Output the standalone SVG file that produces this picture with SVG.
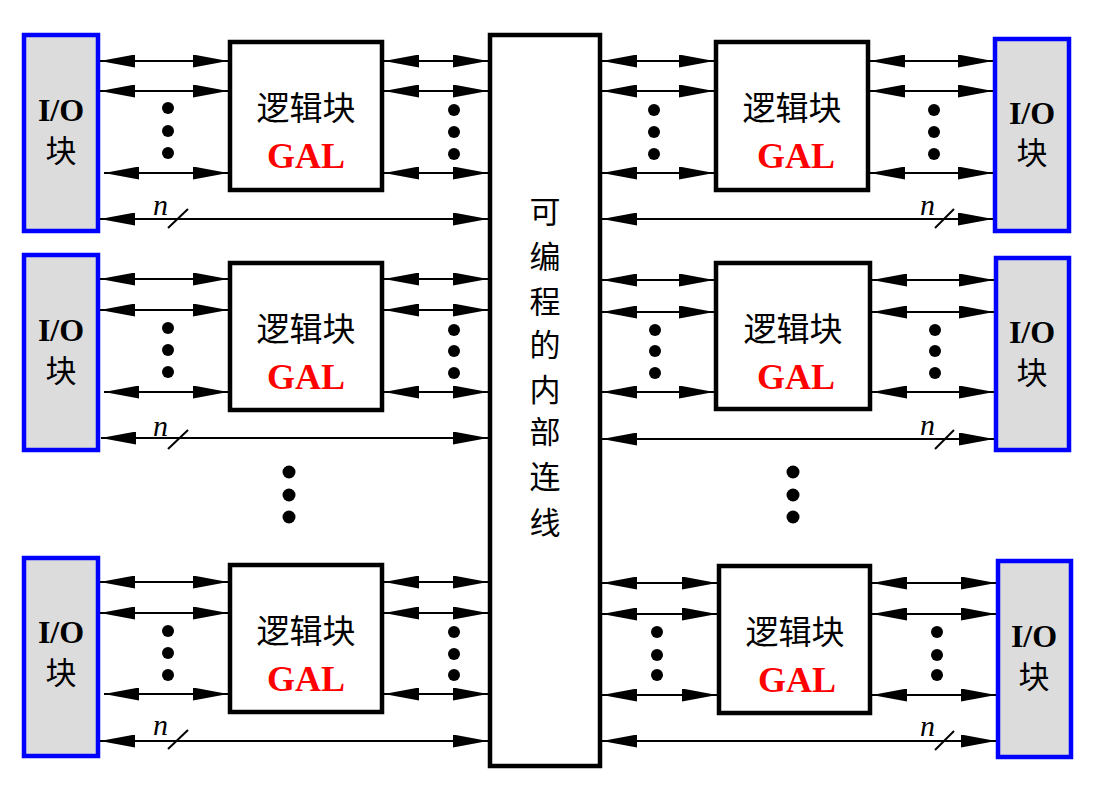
<svg xmlns="http://www.w3.org/2000/svg" width="1111" height="793" viewBox="0 0 1111 793">
<style>
.io{fill:#dcdcdc;stroke:#0000ff;stroke-width:4.5}
.blk{fill:#fff;stroke:#000;stroke-width:4.5}
.ln{stroke:#000;stroke-width:2;fill:none;marker-start:url(#ah);marker-end:url(#ah)}
.sl{stroke:#000;stroke-width:2}
.dot{fill:#000}
.cjk{font-family:"Liberation Serif","Noto Sans CJK SC",serif;font-size:31px;fill:#000;text-anchor:middle}
.iot{font-family:"Liberation Serif","Noto Sans CJK SC",serif;font-size:32px;font-weight:bold;fill:#000;text-anchor:middle}
.gal{font-family:"Liberation Serif",serif;font-size:36px;font-weight:bold;fill:#ff0000;text-anchor:middle}
.n{font-family:"Liberation Serif",serif;font-size:30px;font-style:italic;fill:#000}
</style>
<defs>
<marker id="ah" viewBox="0 0 35 13" refX="35" refY="6.5" markerWidth="35" markerHeight="13" markerUnits="userSpaceOnUse" orient="auto-start-reverse">
<path d="M0,0 L35,6.5 L0,13 z" fill="#000"/>
</marker>
</defs>

<g id="center">
<rect class="blk" x="490" y="35" width="110" height="731"/>
<text class="cjk" x="545" y="223">可</text>
<text class="cjk" x="545" y="268">编</text>
<text class="cjk" x="545" y="313">程</text>
<text class="cjk" x="545" y="356">的</text>
<text class="cjk" x="545" y="401">内</text>
<text class="cjk" x="545" y="443">部</text>
<text class="cjk" x="545" y="488">连</text>
<text class="cjk" x="545" y="534">线</text>
</g>

<g id="io-l1"><rect class="io" x="24" y="35" width="74" height="196"/><text class="iot" x="61" y="121">I/O</text><text class="cjk" x="61" y="162">块</text></g>
<g id="io-l2"><rect class="io" x="24" y="255" width="74" height="195"/><text class="iot" x="61" y="341">I/O</text><text class="cjk" x="61" y="382">块</text></g>
<g id="io-l3"><rect class="io" x="24" y="558" width="74" height="198"/><text class="iot" x="61" y="643">I/O</text><text class="cjk" x="61" y="684">块</text></g>

<g id="io-r1"><rect class="io" x="995" y="39" width="74" height="192"/><text class="iot" x="1032" y="124">I/O</text><text class="cjk" x="1032" y="164">块</text></g>
<g id="io-r2"><rect class="io" x="996" y="258" width="73" height="192"/><text class="iot" x="1032" y="343">I/O</text><text class="cjk" x="1032" y="384">块</text></g>
<g id="io-r3"><rect class="io" x="998" y="561" width="73" height="196"/><text class="iot" x="1034" y="647">I/O</text><text class="cjk" x="1034" y="688">块</text></g>

<g id="gal-l1"><rect class="blk" x="230" y="42" width="152" height="148"/><text class="cjk" x="306" y="120" style="font-size:33px">逻辑块</text><text class="gal" x="306" y="168">GAL</text></g>
<g id="gal-l2"><rect class="blk" x="230" y="263" width="152" height="147"/><text class="cjk" x="306" y="341" style="font-size:33px">逻辑块</text><text class="gal" x="306" y="389">GAL</text></g>
<g id="gal-l3"><rect class="blk" x="230" y="565" width="152" height="147"/><text class="cjk" x="306" y="643" style="font-size:33px">逻辑块</text><text class="gal" x="306" y="691">GAL</text></g>

<g id="gal-r1"><rect class="blk" x="716" y="42" width="152" height="148"/><text class="cjk" x="792" y="120" style="font-size:33px">逻辑块</text><text class="gal" x="796" y="168">GAL</text></g>
<g id="gal-r2"><rect class="blk" x="716" y="263" width="154" height="146"/><text class="cjk" x="793" y="341" style="font-size:33px">逻辑块</text><text class="gal" x="796" y="389">GAL</text></g>
<g id="gal-r3"><rect class="blk" x="719" y="566" width="151" height="147"/><text class="cjk" x="795" y="644" style="font-size:33px">逻辑块</text><text class="gal" x="797" y="692">GAL</text></g>

<g id="connectors">
<line class="ln" x1="100" y1="61" x2="228" y2="61"/>
<line class="ln" x1="100" y1="91" x2="228" y2="91"/>
<line class="ln" x1="104" y1="173" x2="228" y2="173"/>
<line class="ln" x1="384" y1="61" x2="488" y2="61"/>
<line class="ln" x1="384" y1="91" x2="488" y2="91"/>
<line class="ln" x1="384" y1="173" x2="488" y2="173"/>
<line class="ln" x1="100" y1="219" x2="488" y2="219"/>
<line class="ln" x1="100" y1="279" x2="228" y2="279"/>
<line class="ln" x1="100" y1="310" x2="228" y2="310"/>
<line class="ln" x1="104" y1="392" x2="228" y2="392"/>
<line class="ln" x1="384" y1="279" x2="488" y2="279"/>
<line class="ln" x1="384" y1="310" x2="488" y2="310"/>
<line class="ln" x1="384" y1="392" x2="488" y2="392"/>
<line class="ln" x1="101" y1="438" x2="488" y2="438"/>
<line class="ln" x1="100" y1="582" x2="228" y2="582"/>
<line class="ln" x1="100" y1="613" x2="228" y2="613"/>
<line class="ln" x1="104" y1="694" x2="228" y2="694"/>
<line class="ln" x1="384" y1="582" x2="488" y2="582"/>
<line class="ln" x1="384" y1="613" x2="488" y2="613"/>
<line class="ln" x1="384" y1="694" x2="488" y2="694"/>
<line class="ln" x1="100" y1="741" x2="488" y2="741"/>
<line class="ln" x1="602" y1="61" x2="714" y2="61"/>
<line class="ln" x1="602" y1="91" x2="714" y2="91"/>
<line class="ln" x1="602" y1="173" x2="714" y2="173"/>
<line class="ln" x1="870" y1="61" x2="993" y2="61"/>
<line class="ln" x1="870" y1="91" x2="993" y2="91"/>
<line class="ln" x1="870" y1="173" x2="993" y2="173"/>
<line class="ln" x1="602" y1="219" x2="993" y2="219"/>
<line class="ln" x1="602" y1="280" x2="714" y2="280"/>
<line class="ln" x1="602" y1="312" x2="714" y2="312"/>
<line class="ln" x1="602" y1="392" x2="714" y2="392"/>
<line class="ln" x1="872" y1="280" x2="994" y2="280"/>
<line class="ln" x1="872" y1="312" x2="994" y2="312"/>
<line class="ln" x1="872" y1="392" x2="994" y2="392"/>
<line class="ln" x1="602" y1="439" x2="994" y2="439"/>
<line class="ln" x1="602" y1="583" x2="717" y2="583"/>
<line class="ln" x1="602" y1="614" x2="717" y2="614"/>
<line class="ln" x1="602" y1="695" x2="717" y2="695"/>
<line class="ln" x1="872" y1="583" x2="996" y2="583"/>
<line class="ln" x1="872" y1="614" x2="996" y2="614"/>
<line class="ln" x1="872" y1="695" x2="996" y2="695"/>
<line class="ln" x1="602" y1="741" x2="996" y2="741"/>
<line class="sl" x1="168" y1="228" x2="188" y2="209"/>
<line class="sl" x1="168" y1="449" x2="188" y2="430"/>
<line class="sl" x1="168" y1="749" x2="188" y2="730"/>
<line class="sl" x1="935" y1="228" x2="954" y2="209"/>
<line class="sl" x1="935" y1="449" x2="954" y2="430"/>
<line class="sl" x1="935" y1="750" x2="954" y2="731"/>
<text class="n" x="153" y="215">n</text>
<text class="n" x="153" y="436">n</text>
<text class="n" x="153" y="735">n</text>
<text class="n" x="920" y="215">n</text>
<text class="n" x="920" y="435">n</text>
<text class="n" x="920" y="736">n</text>
</g>

<g id="dots">
<circle class="dot" cx="168" cy="108" r="6"/><circle class="dot" cx="168" cy="131" r="6"/><circle class="dot" cx="168" cy="153" r="6"/>
<circle class="dot" cx="454" cy="110" r="6"/><circle class="dot" cx="454" cy="132" r="6"/><circle class="dot" cx="454" cy="154" r="6"/>
<circle class="dot" cx="654" cy="110" r="6"/><circle class="dot" cx="654" cy="132" r="6"/><circle class="dot" cx="654" cy="154" r="6"/>
<circle class="dot" cx="934" cy="110" r="6"/><circle class="dot" cx="934" cy="132" r="6"/><circle class="dot" cx="934" cy="154" r="6"/>
<circle class="dot" cx="168" cy="328" r="6"/><circle class="dot" cx="168" cy="350" r="6"/><circle class="dot" cx="168" cy="372" r="6"/>
<circle class="dot" cx="454" cy="330" r="6"/><circle class="dot" cx="454" cy="351" r="6"/><circle class="dot" cx="454" cy="373" r="6"/>
<circle class="dot" cx="655" cy="330" r="6"/><circle class="dot" cx="655" cy="351" r="6"/><circle class="dot" cx="655" cy="373" r="6"/>
<circle class="dot" cx="935" cy="330" r="6"/><circle class="dot" cx="935" cy="351" r="6"/><circle class="dot" cx="935" cy="373" r="6"/>
<circle class="dot" cx="168" cy="631" r="6"/><circle class="dot" cx="168" cy="653" r="6"/><circle class="dot" cx="168" cy="675" r="6"/>
<circle class="dot" cx="454" cy="632" r="6"/><circle class="dot" cx="454" cy="654" r="6"/><circle class="dot" cx="454" cy="675" r="6"/>
<circle class="dot" cx="657" cy="632" r="6"/><circle class="dot" cx="657" cy="655" r="6"/><circle class="dot" cx="657" cy="675" r="6"/>
<circle class="dot" cx="937" cy="632" r="6"/><circle class="dot" cx="937" cy="655" r="6"/><circle class="dot" cx="937" cy="675" r="6"/>
<circle class="dot" cx="289" cy="472" r="6.5"/><circle class="dot" cx="289" cy="495" r="6.5"/><circle class="dot" cx="289" cy="517" r="6.5"/>
<circle class="dot" cx="793" cy="472" r="6.5"/><circle class="dot" cx="793" cy="495" r="6.5"/><circle class="dot" cx="793" cy="517" r="6.5"/>
</g>
</svg>
